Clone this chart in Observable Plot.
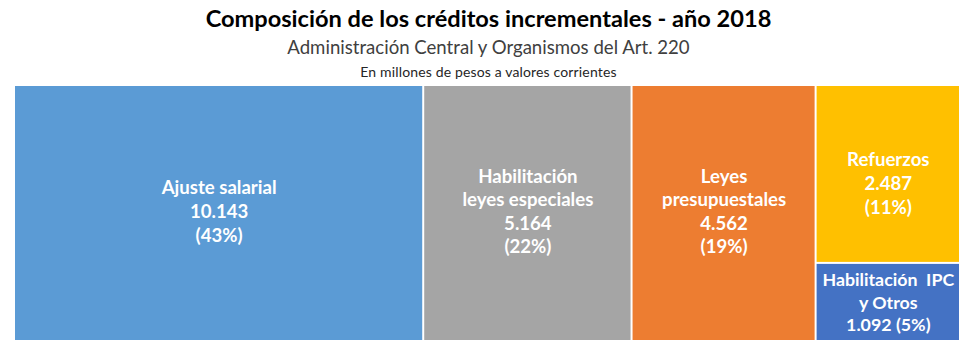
<!DOCTYPE html>
<html>
<head>
<meta charset="utf-8">
<script src="https://cdn.jsdelivr.net/npm/d3@7"></script>
<script src="https://cdn.jsdelivr.net/npm/@observablehq/plot@0.6"></script>
<style>
  html, body { margin: 0; padding: 0; background: #fff; }
  #wrap { width: 977px; height: 357px; position: relative; overflow: hidden; font-family: Lato, "Open Sans", sans-serif; }
  #head { height: 80px; position: relative; }
  .t { position: absolute; left: 0; width: 977px; text-align: center; white-space: nowrap; }
  #title { top: 4px; font-size: 23.6px; font-weight: bold; color: #000; }
  #sub { top: 36px; font-size: 18.6px; color: #404040; }
  #note { top: 63px; font-size: 14px; letter-spacing: 0.15px; color: #262626; }
  #chart svg { display: block; }
</style>
</head>
<body>
<div id="wrap">
  <div id="head">
    <div class="t" id="title">Composición de los créditos incrementales - año 2018</div>
    <div class="t" id="sub">Administración Central y Organismos del Art. 220</div>
    <div class="t" id="note">En millones de pesos a valores corrientes</div>
  </div>
  <div id="chart"></div>
</div>
<script>
const categories = ["Ajuste salarial", "Habilitación\nleyes especiales", "Leyes\npresupuestales", "Refuerzos", "Habilitación  IPC\ny Otros"];
const values = [10143, 5164, 4562, 2487, 1092];
const percents = [43, 22, 19, 11, 5];
const columns = [0, 1, 2, 3, 3];
const colors = ["#5B9BD5", "#A5A5A5", "#ED7D31", "#FFC000", "#4472C4"];
const inlinePercent = [false, false, false, false, true];

const fmt = d3.formatLocale({decimal: ",", thousands: ".", grouping: [3], currency: ["$", ""]}).format(",d");

// column totals and offsets
const nCols = d3.max(columns) + 1;
const colTotals = d3.range(nCols).map(c => d3.sum(values.filter((v, i) => columns[i] === c)));
const colStart = [];
let acc = 0;
for (const t of colTotals) { colStart.push(acc); acc += t; }
const total = acc;

const colUsed = new Array(nCols).fill(0);
const cells = categories.map((name, i) => {
  const c = columns[i];
  const y1 = colUsed[c] / colTotals[c];
  colUsed[c] += values[i];
  const y2 = colUsed[c] / colTotals[c];
  const label = inlinePercent[i]
    ? `${name}\n${fmt(values[i])} (${percents[i]}%)`
    : `${name}\n${fmt(values[i])}\n(${percents[i]}%)`;
  return {
    idx: i, name, value: values[i], color: colors[i],
    x1: colStart[c], x2: colStart[c] + colTotals[c],
    y1, y2, label,
    small: inlinePercent[i]
  };
});

const cx = d => (d.x1 + d.x2) / 2;
const cy = d => (d.y1 + d.y2) / 2;
const txt = {x: cx, y: cy, text: "label", fill: "white", fontWeight: "bold", fontSize: 18.6};

const chart = Plot.plot({
  width: 977,
  height: 277,
  marginLeft: 14,
  marginRight: 17,
  marginTop: 5,
  marginBottom: 16,
  x: {domain: [0, total], axis: null},
  y: {domain: [0, 1], reverse: true, axis: null},
  style: {fontFamily: "Lato, 'Open Sans', sans-serif", background: "#fff"},
  marks: [
    Plot.rect(cells, {x1: "x1", x2: "x2", y1: "y1", y2: "y2", fill: "color", inset: 1}),
    Plot.text(cells.filter(d => !d.small && d.idx !== 3), {...txt, lineHeight: 1.27, dy: -3}),
    Plot.text(cells.filter(d => d.idx === 3), {...txt, lineHeight: 1.27, dy: 8}),
    Plot.text(cells.filter(d => d.small), {...txt, fontSize: 17.8, lineHeight: 1.24, dy: -1})
  ]
});
document.getElementById("chart").appendChild(chart);
</script>
</body>
</html>
